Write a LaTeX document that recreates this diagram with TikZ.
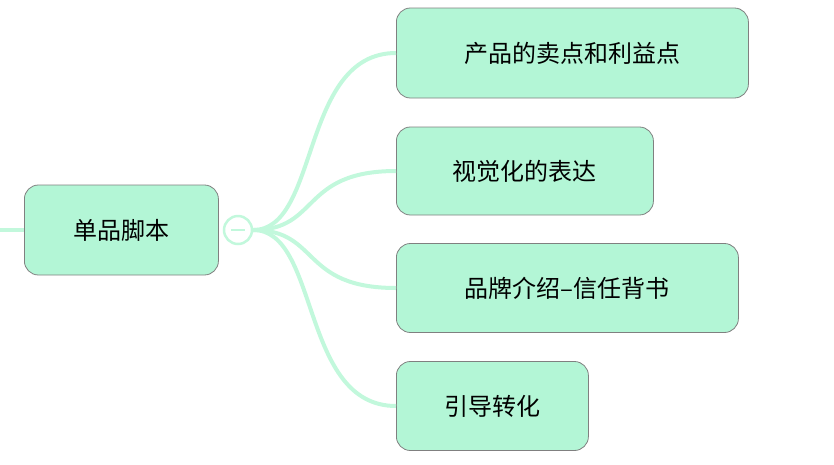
\documentclass[tikz,border=0pt]{standalone}
\usepackage{fontspec}
\setmainfont{Noto Sans CJK SC}
\begin{document}
\begin{tikzpicture}[x=1pt,y=-1pt,
  topic/.style={draw=black!50,line width=0.8pt,fill=mint,rounded corners=14pt,font=\fontsize{24}{28}\selectfont,anchor=west,inner xsep=0pt,inner ysep=0pt},
  link/.style={draw=mintline,line width=4pt}]
\definecolor{mint}{HTML}{B3F6D6}
\definecolor{mintline}{HTML}{C2F8DC}
\useasboundingbox (0,0) rectangle (834,464);
\node[topic,minimum width=194pt,minimum height=90pt] (c) at (24,230) {单品脚本};
\node[draw=mintline,line width=2.5pt,fill=white,circle,minimum size=28pt,inner sep=0pt] (k) at (238,230) {};
\draw[mintline,line width=2pt] (231,230) -- (245,230);
\coordinate (l) at (0,230);
\draw[link] (l) -- (c.west);
\node[topic,minimum width=352pt,minimum height=90pt] (a1) at (396,53) {产品的卖点和利益点};
\node[topic,minimum width=257pt,minimum height=88pt] (a2) at (396,171) {视觉化的表达};
\node[topic,minimum width=342pt,minimum height=89pt] (a3) at (396,288) {品牌介绍--信任背书};
\node[topic,minimum width=192pt,minimum height=89pt] (a4) at (396,406) {引导转化};
\foreach \n in {a1,a2,a3,a4}{
  \draw[link] (k.east) .. controls (320,230) and (300,0 |- \n.west) .. (\n.west);
}
\end{tikzpicture}
\end{document}
